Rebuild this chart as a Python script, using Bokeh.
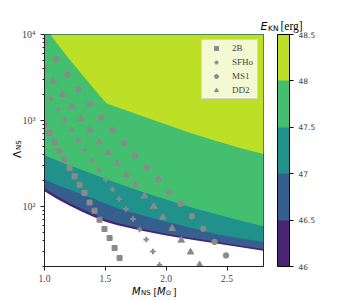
import math
from bokeh.plotting import figure
from bokeh.models import (Range1d, FixedTicker, ColorBar, LinearColorMapper,
                          Legend, LegendItem, Label)
from bokeh.embed import file_html
from bokeh.resources import INLINE

# ---------------- data ----------------
levels = [46.0, 46.5, 47.0, 47.5, 48.0, 48.5]
level_colors = ["#482475", "#355f8d", "#21918c", "#44bf70", "#bddf26"]
cbar_tick_labels = ["46", "46.5", "47", "47.5", "48", "48.5"]

# contour boundaries (Lambda at given mass)
mass_grid = [1.0, 1.1, 1.2, 1.3, 1.4, 1.5, 1.6, 1.8, 2.0, 2.2, 2.4, 2.6, 2.8]
lam_46 = [150, 123, 103, 87.9, 75.9, 66.3, 60.3, 52.0, 45.9, 41.2, 37.3, 33.7, 30.5]
lam_465 = [163, 133, 111, 94.8, 81.6, 70.9, 64.1, 54.8, 48.2, 43.1, 39.0, 35.2, 31.9]
lam_47 = [207, 179, 157, 139, 123, 108, 95.3, 79.0, 66.3, 56.5, 48.1, 42.6, 38.8]
lam_475 = [395, 345, 302, 268, 237, 210, 186, 148, 120, 97.9, 82.2, 69.1, 58.8]
mass_48 = [1.047, 1.185, 1.32, 1.458, 1.513, 1.8, 2.0, 2.2, 2.4, 2.6, 2.8]
lam_48 = [10000, 5587, 3268, 1911, 1572, 1124, 895, 713, 583, 483, 406]

# equation-of-state sequences
m_2b = [1.00, 1.041, 1.082, 1.123, 1.164, 1.206, 1.247, 1.288, 1.329, 1.370,
        1.411, 1.452, 1.493, 1.535, 1.576, 1.617]
lam_2b = [907, 716, 563, 437, 350, 280, 224, 179, 143, 111, 89.1, 70.0, 54.6,
          42.9, 32.8, 25.1]
m_sfho = [1.053, 1.110, 1.168, 1.222, 1.277, 1.334, 1.390, 1.447, 1.502, 1.559,
          1.614, 1.669, 1.727, 1.781, 1.836, 1.891, 1.946]
lam_sfho = [1782, 1338, 1004, 768, 587, 452, 341, 264, 205, 158, 122, 93.3,
            71.3, 54.0, 41.3, 29.9, 20.9]
m_ms1 = [1.001, 1.094, 1.187, 1.280, 1.373, 1.466, 1.559, 1.653, 1.746, 1.839,
         1.933, 2.026, 2.118, 2.212, 2.305, 2.398, 2.492]
lam_ms1 = [8134, 5114, 3393, 2288, 1559, 1079, 768, 542, 390, 282, 205, 147,
           107, 76.9, 55.0, 38.6, 26.9]
m_dd2 = [1.000, 1.074, 1.148, 1.225, 1.299, 1.376, 1.450, 1.524, 1.598, 1.672,
         1.748, 1.822, 1.898, 1.974, 2.049, 2.124, 2.200, 2.275]
lam_dd2 = [4072, 2858, 2001, 1438, 1051, 768, 563, 419, 314, 234, 176, 132,
           100, 74.8, 55.3, 40.4, 29.4, 20.9]

eos_names = ["2B", "SFHo", "MS1", "DD2"]

x_ticks = [1.0, 1.5, 2.0, 2.5]
x_tick_labels = ["1.0", "1.5", "2.0", "2.5"]
y_ticks = [100, 1000, 10000]
y_tick_labels = ["10\u00b2", "10\u00b3", "10\u2074"]

x_start, x_end = 1.0, 2.8
y_start, y_end = 20, 10000

# ---------------- figure ----------------
p = figure(width=352, height=298, x_range=Range1d(x_start, x_end),
           y_range=Range1d(y_start, y_end), y_axis_type="log",
           output_backend="svg", toolbar_location=None,
           min_border_left=44, min_border_right=89, min_border_top=34,
           min_border_bottom=32)
p.grid.visible = False
p.outline_line_color = "#222222"
p.outline_line_width = 1
p.background_fill_color = "white"

# filled contour bands (layered)
for lam, col in zip([lam_46, lam_465, lam_47, lam_475], level_colors[:4]):
    p.varea(x=mass_grid, y1=lam, y2=[y_end] * len(mass_grid), fill_color=col)
p.varea(x=mass_48, y1=lam_48, y2=[y_end] * len(mass_48), fill_color=level_colors[4])

mk = "#8a8a8a"
r_2b = p.scatter(m_2b, lam_2b, marker="square", size=5, color=mk)
r_sfho = p.scatter(m_sfho, lam_sfho, marker="cross", size=5.5, line_width=1.9, color=mk)
r_ms1 = p.scatter(m_ms1, lam_ms1, marker="circle", size=5.5, color=mk)
r_dd2 = p.scatter(m_dd2, lam_dd2, marker="triangle", size=6.5, color=mk)

legend = Legend(items=[LegendItem(label=n, renderers=[r]) for n, r in
                       zip(eos_names, [r_2b, r_sfho, r_ms1, r_dd2])],
                location="top_right", margin=5, padding=3, spacing=4,
                glyph_width=22, glyph_height=10, label_height=10,
                label_standoff=5, label_width=22,
                label_text_font="Liberation Serif", label_text_font_size="9px",
                background_fill_color="white", background_fill_alpha=0.8,
                border_line_color="#cccccc", border_line_alpha=0.8)
p.add_layout(legend)

# axes
xa = p.xaxis[0]
xa.ticker = FixedTicker(ticks=x_ticks, minor_ticks=[])
xa.major_label_overrides = dict(zip(x_ticks, x_tick_labels))
xa.major_label_text_font = "Liberation Serif"
xa.major_label_text_font_size = "9.5px"
xa.major_tick_out = 4
xa.major_tick_in = 0
xa.minor_tick_out = 0
xa.major_label_standoff = 4
xa.axis_line_color = "#222222"
xa.major_tick_line_color = "#222222"

ya = p.yaxis[0]
minor_y = [k * 10 ** e for e in range(1, 4) for k in range(2, 10) if k * 10 ** e >= y_start]
ya.ticker = FixedTicker(ticks=y_ticks, minor_ticks=minor_y)
ya.major_label_overrides = dict(zip(y_ticks, y_tick_labels))
ya.major_label_text_font = "Liberation Serif"
ya.major_label_text_font_size = "10px"
ya.major_tick_out = 4
ya.major_tick_in = 0
ya.minor_tick_out = 2
ya.minor_tick_in = 0
ya.major_label_standoff = 5
ya.axis_line_color = "#222222"
ya.major_tick_line_color = "#222222"
ya.minor_tick_line_color = "#222222"

# colour bar
mapper = LinearColorMapper(palette=level_colors, low=levels[0], high=levels[-1])
cb = ColorBar(color_mapper=mapper, ticker=FixedTicker(ticks=levels, minor_ticks=[]),
              location=(233, 0), width=12, height=232, padding=0, margin=0,
              orientation="vertical", bar_line_color="black", bar_line_width=1,
              major_tick_line_color="black", major_tick_in=0, major_tick_out=4,
              major_label_text_font="DejaVu Sans",
              major_label_text_font_size="7.5px", label_standoff=5,
              major_label_overrides=dict(zip(levels, cbar_tick_labels)),
              background_fill_alpha=0, border_line_color=None)
p.add_layout(cb)


def txt(side, text, x, y, dx, dy, font, size, style="normal", angle=0.0):
    p.add_layout(Label(x=x, y=y, x_offset=dx, y_offset=dy, text=text,
                       text_font=font, text_font_size=size,
                       text_font_style=style, text_align="left",
                       text_baseline="alphabetic", angle=angle,
                       text_color="black"), side)


# x-axis label  M_NS [M_sun]  (held in the roomy right panel)
txt("right", "M", x_start, y_start, 87.5, -24.5, "DejaVu Sans", "10px", "italic")
txt("right", "NS", x_start, y_start, 96.5, -26, "DejaVu Sans", "7px")
txt("right", "[", x_start, y_start, 109, -24.5, "Liberation Serif", "10.5px")
txt("right", "M", x_start, y_start, 112.5, -24.5, "DejaVu Sans", "10px", "italic")
txt("right", "\u2299", x_start, y_start, 121, -26, "DejaVu Sans", "7px")
txt("right", "]", x_start, y_start, 128.5, -24.5, "Liberation Serif", "10.5px")

# y-axis label  Lambda_NS
txt("left", "\u039b", x_start, y_start, -27.5, 108.5, "DejaVu Sans", "10.5px", angle=math.pi / 2)
txt("right", "NS", x_start, y_start, -25.5, 116.5, "DejaVu Sans", "7px", angle=math.pi / 2)

# colour-bar title  E_KN [erg]
txt("above", "E", x_end, y_end, -3, 8.5, "DejaVu Sans", "11px", "italic")
txt("below", "KN", x_end, y_end, 4.5, 6.5, "DejaVu Sans", "7.5px")
txt("above", "[erg]", x_end, y_end, 17, 8.5, "Liberation Serif", "11.5px")

open("out.html", "w").write(file_html(p, INLINE))
